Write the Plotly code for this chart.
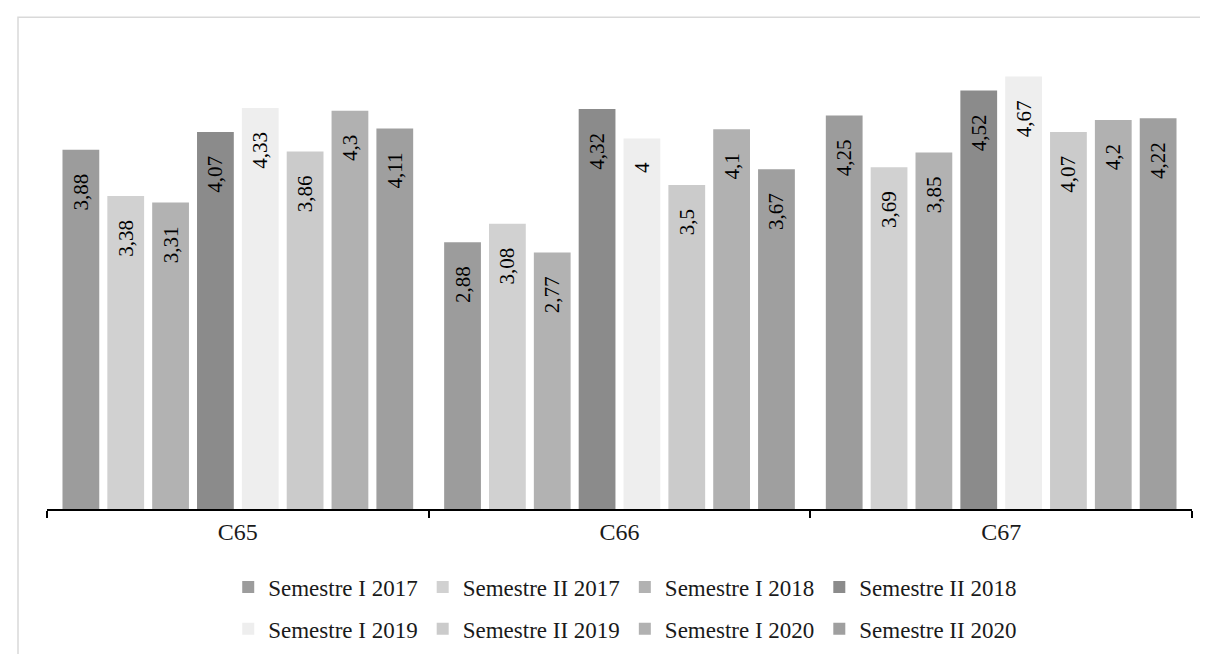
import plotly.graph_objects as go

categories = ["C65", "C66", "C67"]

series_names = [
    "Semestre I 2017",
    "Semestre II 2017",
    "Semestre I 2018",
    "Semestre II 2018",
    "Semestre I 2019",
    "Semestre II 2019",
    "Semestre I 2020",
    "Semestre II 2020",
]

sem1_2017 = [3.88, 2.88, 4.25]
sem2_2017 = [3.38, 3.08, 3.69]
sem1_2018 = [3.31, 2.77, 3.85]
sem2_2018 = [4.07, 4.32, 4.52]
sem1_2019 = [4.33, 4.00, 4.67]
sem2_2019 = [3.86, 3.50, 4.07]
sem1_2020 = [4.30, 4.10, 4.20]
sem2_2020 = [4.11, 3.67, 4.22]

series_values = [
    sem1_2017, sem2_2017, sem1_2018, sem2_2018,
    sem1_2019, sem2_2019, sem1_2020, sem2_2020,
]

# grey shades (Excel used gradients, plotly bars take flat fills)
colors = ["#9c9c9c", "#d1d1d1", "#b2b2b2", "#8b8b8b",
          "#eeeeee", "#cbcbcb", "#b1b1b1", "#9f9f9f"]

FONT = "Liberation Serif"
W, H = 1208, 654
ML, MR, MT, MB = 39, 24, 38, 148
PW, PH = W - ML - MR, H - MT - MB


def fmt(v):
    # comma decimals, padded so the label sits a bit below the bar top
    return f"{v:g}".replace(".", ",") + "\u00a0\u00a0\u00a0\u00a0"


label_font = {"family": FONT, "size": 21, "color": "#000000"}

fig = go.Figure()
for i, (name, vals) in enumerate(zip(series_names, series_values)):
    fig.add_trace(
        go.Bar(
            x=categories,
            y=vals,
            name=name,
            marker={"color": colors[i], "line": {"width": 0}},
            text=[fmt(v) for v in vals],
            textposition="inside",
            insidetextanchor="end",
            textangle=-90,
            textfont=label_font,
            insidetextfont=label_font,
            legend="legend" if i < 4 else "legend2",
        )
    )

legend_style = {
    "orientation": "h",
    "xanchor": "center",
    "x": 0.505,
    "yanchor": "middle",
    "font": {"family": FONT, "size": 23, "color": "#1a1a1a"},
    "bgcolor": "rgba(0,0,0,0)",
    "traceorder": "normal",
}

# light grey chart frame (cropped on the right and bottom in the original)
fx0 = (10 - ML) / PW
fy1 = 1 + (MT - 9) / PH

fig.update_layout(
    width=W,
    height=H,
    margin={"l": ML, "r": MR, "t": MT, "b": MB},
    paper_bgcolor="white",
    plot_bgcolor="white",
    barmode="group",
    bargap=0.06,
    bargroupgap=0.18,
    uniformtext={"mode": False},
    showlegend=True,
    legend={**legend_style, "y": -(585 - (MT + PH)) / PH},
    legend2={**legend_style, "y": -(627 - (MT + PH)) / PH},
    xaxis={
        "showgrid": False,
        "showline": True,
        "linecolor": "#000000",
        "linewidth": 1.5,
        "ticks": "outside",
        "tickson": "boundaries",
        "ticklen": 7,
        "tickcolor": "#000000",
        "tickwidth": 1.5,
        "tickfont": {"family": FONT, "size": 24, "color": "#1a1a1a"},
    },
    yaxis={"range": [0, 5], "visible": False, "showgrid": False},
    shapes=[
        {
            "type": "rect",
            "xref": "paper",
            "yref": "paper",
            "x0": fx0,
            "x1": 1.2,
            "y0": -0.5,
            "y1": fy1,
            "line": {"color": "#d9d9d9", "width": 1.5},
            "fillcolor": "rgba(0,0,0,0)",
            "layer": "below",
        }
    ],
)

fig.write_html("out.html")
